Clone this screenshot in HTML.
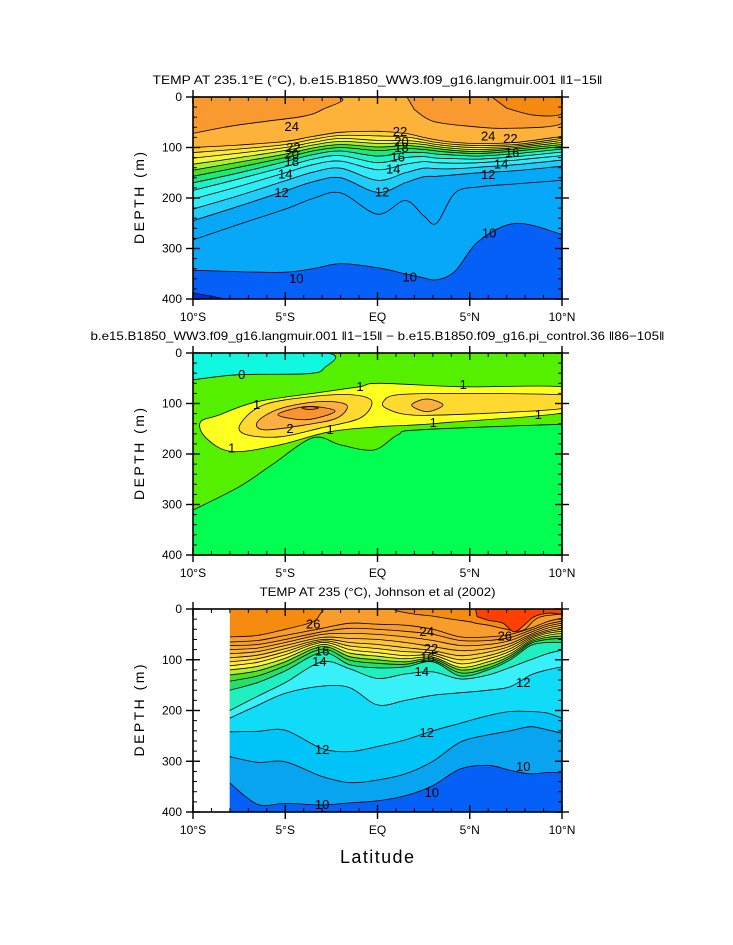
<!DOCTYPE html>
<html><head><meta charset="utf-8"><style>
html,body{margin:0;padding:0;background:#fff;}
svg{display:block;font-family:"Liberation Sans",Arial,sans-serif;}
</style></head><body>
<svg id="chart" width="733" height="945" viewBox="0 0 733 945" xmlns="http://www.w3.org/2000/svg">
<rect width="733" height="945" fill="#fff"/>
<g id="layers"></g>
</svg>
<script>
// ---------- Panel 1 data (model temperature) ----------
const p1Lat = [-10,-7.5,-5,-3.5,-2,0,1.5,2.5,3.2,4.2,5.5,7.5,10];
const p1Levels = [22,21,20,19,18,17,16,15,14,13,12,11,10];
const p1Depths = [
 [100,95,88,78,70,68,72,80,85,90,92,90,78],
 [110,103,94,84,76,77,79,85,90,94,96,94,82],
 [121,111,100,90,82,86,86,90,94,98,100,97,86],
 [133,120,106,95,88,92,91,94,98,102,104,100,90],
 [145,129,113,101,94,99,96,99,102,106,108,103,94],
 [157,139,120,107,100,106,102,104,107,110,112,107,98],
 [170,150,128,114,107,117,110,110,113,115,117,112,103],
 [185,162,138,123,116,130,120,118,121,122,123,118,109],
 [202,177,150,134,127,144,133,128,130,131,130,125,116],
 [222,195,166,149,141,165,150,141,142,142,139,134,125],
 [245,216,186,168,160,189,170,158,157,154,150,146,137],
 [283,252,222,201,190,232,205,235,250,190,178,172,165],
 [343,346,347,340,330,338,350,358,362,345,285,250,272]
];
const p1Colors = ["#fdd03a","#fee83a","#f0f83a","#a8f030","#48e028","#20e878","#20f0c8","#30f8f0","#30eaf8","#20ccf8","#08a8f8","#08a8f8","#0560f8"];
const p1LeftWarmLat = [-10,-2.3,-3,-4,-6,-8,-10];
const p1LeftWarmDep = [0,0,25,38,48,58,72];
const p1RightWarmLat = [1.6,10,10,7,5,3,2];
const p1RightWarmDep = [0,0,52,62,58,48,25];
const p1PocketLat = [6.2,10,10,8.5,7];
const p1PocketDep = [0,0,33,36,22];
const p1DeepLat = [-10,-8.8,-8];
const p1DeepDep = [388,396,402];
const p1Labels = [[-4.65,59,"24"],[6.0,78,"24"],[-4.56,101,"22"],[1.22,69,"22"],[7.2,83,"22"],[1.3,89,"20"],[-4.65,114,"20"],[-4.65,129,"18"],[1.3,101,"18"],[1.1,120,"16"],[7.3,111,"16"],[-5,153,"14"],[0.85,144,"14"],[6.7,134,"14"],[-5.2,190,"12"],[0.25,189,"12"],[6.0,154,"12"],[-4.4,360,"10"],[1.75,357,"10"],[6.05,270,"10"]];

// ---------- Panel 2 data (difference) ----------
const p2CyanLat = [-10,-2.8,-2.9,-3.8,-7.5,-10];
const p2CyanDep = [0,0,30,41,43,53];
const p2DeepLat = [-10,-7.5,-5.7,-3.5,-2,-0.2,1.1,2.3,10];
const p2DeepDep = [311,265,221,168,182,192,162,152,141];
const p2YellowLat = [-9.6,-8.6,-6.6,-3.5,-1,0.1,4.6,10,10.3,10,4,2.3,0.1,-2.6,-5.3,-7.9,-9.3];
const p2YellowDep = [137,123,97,80,67,60,67,67,95,119,137,142,146,156,182,195,168];
const p2GoldLLat = [-7.45,-6.19,-3.48,-1.31,-0.31,-0.95,-3.12,-5.28,-7.09];
const p2GoldLDep = [142,103,86,83,96,129,149,166,162];
const p2GoldRLat = [0.32,1.04,3.75,10,10.4,10,5.56,1.94,0.5];
const p2GoldRDep = [96,83,80,83,95,110,120,123,110];
const p2OrLLat = [-6.5,-5.28,-3.12,-1.67,-2.21,-4.01,-6.14];
const p2OrLDep = [136,110,96,103,129,143,152];
const p2OrRLat = [1.85,2.68,3.55,2.68];
const p2OrRDep = [103,91,103,116];
const p2InLat = [-5.4,-3.84,-2.3,-3.84];
const p2InDep = [122,106,115,132];
const p2CoreLat = [-4.1,-3.66,-3.2,-3.66];
const p2CoreDep = [109,106,109,112];
const p2Labels = [[-7.36,44,"0"],[-6.55,103,"1"],[-0.95,67,"1"],[4.65,63,"1"],[-7.9,189,"1"],[-2.57,152,"1"],[3.02,139,"1"],[8.72,123,"1"],[-4.74,150,"2"]];

// ---------- Panel 3 data (observations) ----------
const p3Lat = [-8,-6.5,-5,-3,-1.5,0,1.5,3,4.5,6,7.2,8.3,9.2,10];
const p3Levels = [25,24,23,22,21,20,19,18,17,16,15,14,13,12,11,10];
const p3Depths = [
 [65,62,52,38,28,30,32,40,55,55,50,38,25,18],
 [72,70,60,45,38,40,44,50,62,62,56,42,30,24],
 [80,77,66,50,48,50,55,62,72,70,62,46,34,28],
 [88,84,72,56,58,60,66,74,82,78,68,50,38,32],
 [96,91,78,60,66,70,76,82,92,85,73,53,42,36],
 [104,98,84,63,73,78,84,87,100,92,78,56,45,40],
 [112,105,90,66,80,86,92,91,108,98,83,59,48,44],
 [120,113,97,70,87,93,98,95,115,104,88,62,52,48],
 [130,122,104,74,94,100,104,98,120,110,92,65,56,53],
 [142,132,112,79,101,107,109,101,126,116,96,68,60,58],
 [160,145,122,86,110,116,114,104,132,120,100,72,66,66],
 [200,172,145,104,118,137,128,124,138,130,115,100,88,81],
 [215,190,166,152,155,189,180,170,165,160,153,130,120,114],
 [242,241,239,275,281,271,258,240,225,210,202,202,205,215],
 [291,302,301,330,342,337,325,300,262,248,240,232,238,245],
 [343,385,383,386,382,378,368,348,315,308,318,325,322,323]
];
const p3Colors = ["#f89c2c","#faa832","#fbb535","#fdc438","#fdd43a","#fee83a","#fff53a","#b0f030","#50e028","#20e070","#20f0c0","#38f0f8","#10dcf8","#00c4f8","#08a4f0","#0560f8"];
const p3Line26Lat = [-8,-6.5,-5,-3.5,-3,-2.5,0.5,1,2,3,4,5,5.3,6,7,7.5,8,8.5,9,10];
const p3Line26Dep = [55,52,40,25,5,-10,-10,3,10,14,20,25,28,32,40,44,40,22,14,10];
const p3RedLat = [5.3,10,10,9.3,8.5,8,7.4,6.8,6,5.4];
const p3RedDep = [0,0,10,8,15,30,45,28,22,15];
const p3Labels = [[-3.48,31,"26"],[2.67,45,"24"],[6.9,54,"26"],[-3.0,84,"16"],[2.9,79,"22"],[2.7,97,"16"],[-3.15,104,"14"],[2.4,124,"14"],[7.9,146,"12"],[2.67,244,"12"],[-3.0,278,"12"],[-3.0,386,"10"],[2.94,363,"10"],[7.9,311,"10"]];

// ---------- rendering ----------
const NS = "http://www.w3.org/2000/svg";
const layers = document.getElementById("layers");
function mk(tag, attrs, parent){ const e=document.createElementNS(NS,tag); for(const k in attrs) e.setAttribute(k,attrs[k]); (parent||layers).appendChild(e); return e; }

function crPath(pts, closed){
  const n=pts.length; if(n<2) return "";
  let d="";
  const get=i=> closed ? pts[(i+n)%n] : pts[Math.max(0,Math.min(n-1,i))];
  const segs = closed ? n : n-1;
  d += "M"+pts[0][0].toFixed(1)+","+pts[0][1].toFixed(1);
  for(let i=0;i<segs;i++){
    const p0=get(i-1),p1=get(i),p2=get(i+1),p3=get(i+2);
    const c1=[p1[0]+(p2[0]-p0[0])/6, p1[1]+(p2[1]-p0[1])/6];
    const c2=[p2[0]-(p3[0]-p1[0])/6, p2[1]-(p3[1]-p1[1])/6];
    d+="C"+c1[0].toFixed(1)+","+c1[1].toFixed(1)+" "+c2[0].toFixed(1)+","+c2[1].toFixed(1)+" "+p2[0].toFixed(1)+","+p2[1].toFixed(1);
  }
  if(closed) d+="Z";
  return d;
}

function makePanel(id, x0,x1,y0,y1){
  const xs = lat => x0 + (lat+10)/20*(x1-x0);
  const ys = d => y0 + d/400*(y1-y0);
  const clip = mk("clipPath",{id:"clip"+id});
  mk("rect",{x:x0,y:y0,width:x1-x0,height:y1-y0},clip);
  const g = mk("g",{"clip-path":"url(#clip"+id+")"});
  
  
  return {xs,ys,g,x0,x1,y0,y1};
}
function fillBelow(P, lats, deps, color, name, stroke){
  const pts = lats.map((l,i)=>[P.xs(l),P.ys(deps[i])]);
  const line = crPath(pts,false);
  const last=pts[pts.length-1], first=pts[0];
  const f = mk("path",{d: line+"L"+last[0]+","+(P.y1+5)+"L"+first[0]+","+(P.y1+5)+"Z", fill:color, stroke:"none"}, P.g);
  
  
  if(stroke!==false){
    const s = mk("path",{d:line, fill:"none", stroke:"#000", "stroke-width":"0.8"}, P.g);
    
    
  }
}
function polyShape(P, lats, deps, color, name, closed){
  const pts = lats.map((l,i)=>[P.xs(l),P.ys(deps[i])]);
  const d = crPath(pts, closed);
  const f = mk("path",{d: closed? d : d+"Z", fill:color, stroke:"#000","stroke-width":"0.8"}, P.g);
  
  
}
function labels(P, arr, name){
  arr.forEach(a=>{
    const t = mk("text",{x:P.xs(a[0]), y:P.ys(a[1])+4, "font-size":"13", "text-anchor":"middle", fill:"#000"}, P.g);
    t.textContent = a[2];
    
    
  });
}
function axes(P, id, title, titleLen){
  const g = mk("g",{});
  
  
  mk("rect",{x:P.x0,y:P.y0,width:P.x1-P.x0,height:P.y1-P.y0,fill:"none",stroke:"#000","stroke-width":"1.6"},g);
  for(let l=-10;l<=10;l++){
    const x=P.xs(l), major = l%5===0, L = major?7:4;
    mk("line",{x1:x,y1:P.y0-(major?7:0),x2:x,y2:P.y0+L,stroke:"#000","stroke-width":major?1.4:1},g);
    mk("line",{x1:x,y1:P.y1+(major?7:0),x2:x,y2:P.y1-L,stroke:"#000","stroke-width":major?1.4:1},g);
  }
  for(let d=0;d<=400;d+=20){
    const y=P.ys(d), major=d%100===0, L=major?7:4;
    mk("line",{x1:P.x0-(major?7:0),y1:y,x2:P.x0+L,y2:y,stroke:"#000","stroke-width":major?1.4:1},g);
    mk("line",{x1:P.x1+(major?7:0),y1:y,x2:P.x1-L,y2:y,stroke:"#000","stroke-width":major?1.4:1},g);
    if(major){
      const t=mk("text",{x:P.x0-11,y:y+4,"font-size":"12","text-anchor":"end"},g);
      t.textContent=d;
      
      
    }
  }
  const xl=["10°S","5°S","EQ","5°N","10°N"];
  [-10,-5,0,5,10].forEach((l,i)=>{
    const t=mk("text",{x:P.xs(l),y:P.y1+22,"font-size":"12","text-anchor":"middle"},g);
    t.textContent=xl[i];
    
    
  });
  const yt=mk("text",{x:0,y:0,"font-size":"14","text-anchor":"middle",textLength:"92",lengthAdjust:"spacing",transform:"translate(144,"+((P.y0+P.y1)/2)+") rotate(-90)"},g);
  yt.textContent="DEPTH (m)";
  
  
  const tt=mk("text",{x:(P.x0+P.x1)/2,y:P.y0-13,"font-size":"12","text-anchor":"middle",textLength:titleLen,lengthAdjust:"spacingAndGlyphs"},g);
  tt.textContent=title;
  
  
}

// Panel 1
const P1 = makePanel(1,193,562,97,299);
mk("rect",{x:193,y:97,width:369,height:202,fill:"#fdb23a"},P1.g);
polyShape(P1,p1LeftWarmLat,p1LeftWarmDep,"#f99a30","warm-region-left",false);
polyShape(P1,p1RightWarmLat,p1RightWarmDep,"#f99a30","warm-region-right",false);
polyShape(P1,p1PocketLat,p1PocketDep,"#f58a10","warm-pocket-right",false);
p1Depths.forEach((dep,i)=> fillBelow(P1,p1Lat,dep,p1Colors[i],"isotherm-"+p1Levels[i]));
fillBelow(P1,p1DeepLat,p1DeepDep,"#0030d0","isotherm-9");
labels(P1,p1Labels,"contour");
axes(P1,1,"TEMP AT 235.1°E (°C), b.e15.B1850_WW3.f09_g16.langmuir.001 ‖1−15‖","450");

// Panel 2
const P2 = makePanel(2,193,562,353,555);
mk("rect",{x:193,y:353,width:369,height:202,fill:"#55f000"},P2.g);
polyShape(P2,p2CyanLat,p2CyanDep,"#10f8e0","negative-region",false);
fillBelow(P2,p2DeepLat,p2DeepDep,"#00ff50","diff-0.5");
polyShape(P2,p2YellowLat,p2YellowDep,"#ffff20","diff-1-region",true);
polyShape(P2,p2GoldLLat,p2GoldLDep,"#ffd830","diff-1.5-left",true);
polyShape(P2,p2GoldRLat,p2GoldRDep,"#ffd830","diff-1.5-right",true);
polyShape(P2,p2OrLLat,p2OrLDep,"#fdb040","diff-2-left",true);
polyShape(P2,p2OrRLat,p2OrRDep,"#fdb040","diff-2-right",true);
polyShape(P2,p2InLat,p2InDep,"#f89530","diff-2.5",true);
polyShape(P2,p2CoreLat,p2CoreDep,"#f57810","diff-3",true);
labels(P2,p2Labels,"diff");
axes(P2,2,"b.e15.B1850_WW3.f09_g16.langmuir.001 ‖1−15‖ − b.e15.B1850.f09_g16.pi_control.36 ‖86−105‖","574");

// Panel 3
const P3 = makePanel(3,193,562,609,812);
mk("rect",{x:P3.xs(-8),y:609,width:562-P3.xs(-8),height:203,fill:"#f58c10"},P3.g);
fillBelow(P3,p3Line26Lat,p3Line26Dep,"#f89c2c","isotherm-26");
p3Depths.forEach((dep,i)=> fillBelow(P3,p3Lat,dep,p3Colors[i],"obs-isotherm-"+p3Levels[i]));
polyShape(P3,p3RedLat,p3RedDep,"#ff4000","warm-pool-region",false);
labels(P3,p3Labels,"obs-contour");
axes(P3,3,"TEMP AT 235 (°C), Johnson et al (2002)","236");

const xt = mk("text",{x:377,y:863,"font-size":"18","text-anchor":"middle",textLength:"74"});
xt.textContent="Latitude";


</script>
</body></html>
